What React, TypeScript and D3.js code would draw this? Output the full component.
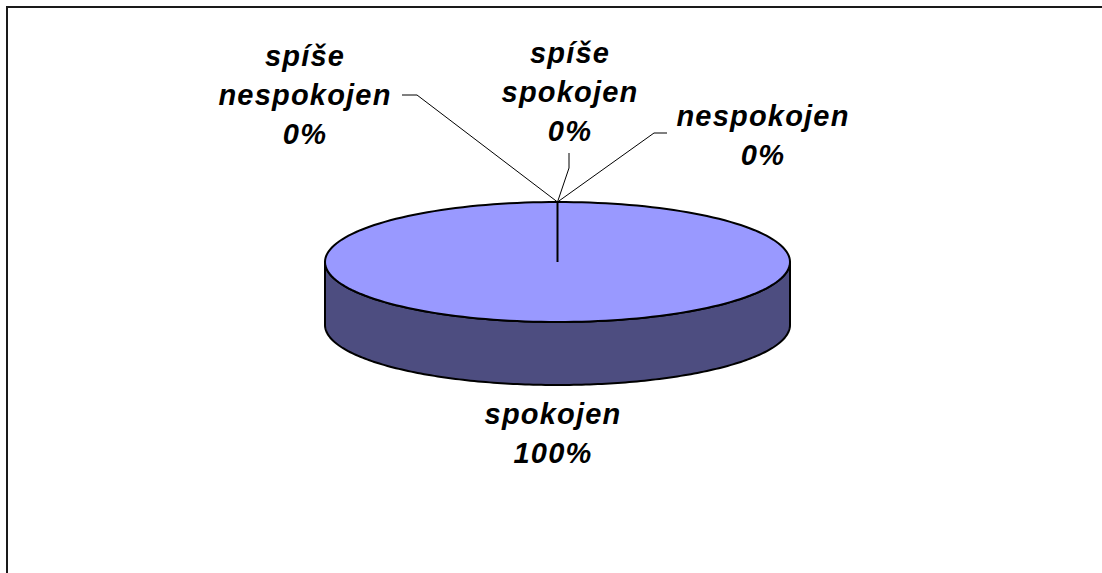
import React from 'react';
import * as d3 from 'd3';

// survey answers, share of respondents
const categories = ['spokojen', 'spíše spokojen', 'spíše nespokojen', 'nespokojen'];
const values = [100, 0, 0, 0];

// label placement (centre x, first baseline y) and leader line elbows
const labelPos: Record<string, { x: number; y: number; leader?: [number, number][] }> = {
  'spokojen': { x: 553, y: 424 },
  'spíše spokojen': { x: 570, y: 63, leader: [[569, 153], [569, 168]] },
  'spíše nespokojen': { x: 305, y: 66, leader: [[402, 95], [417, 95]] },
  'nespokojen': { x: 763, y: 126, leader: [[667, 133], [654, 133]] },
};

const W = 1102;
const H = 573;
const cx = 557.5;
const cy = 262;
const rx = 232.5;
const ry = 60;
const depth = 63;
const lineH = 39;

const topColor = '#9999ff';
const sideColor = '#4d4d80';

// project pie angle (0 = 12 o'clock, clockwise) onto the tilted ellipse
const proj = (a: number, dy = 0): [number, number] => [cx + rx * Math.sin(a), cy - ry * Math.cos(a) + dy];

export default function App() {
  const total = d3.sum(values);
  const pie = d3.pie<number>().sort(null).value(d => d)(values);

  const line = d3.line();

  // top faces of slices
  const slicePath = (s: d3.PieArcDatum<number>) => {
    const n = 180;
    const pts: [number, number][] = [];
    for (let i = 0; i <= n; i++) pts.push(proj(s.startAngle + (s.endAngle - s.startAngle) * (i / n)));
    if (s.endAngle - s.startAngle < 2 * Math.PI - 1e-6) pts.push([cx, cy]);
    return line(pts) + 'Z';
  };

  // front wall (visible between 90° and 270°)
  const sidePts: [number, number][] = [];
  const n = 180;
  for (let i = 0; i <= n; i++) sidePts.push(proj(Math.PI / 2 + Math.PI * (i / n)));
  const bottomPts = sidePts.map(([x, y]) => [x, y + depth] as [number, number]);
  const sidePath = line([...sidePts, ...bottomPts.reverse()]) + 'Z';

  const big = pie.filter(s => s.endAngle - s.startAngle > 0);

  return (
    <svg width={W} height={H} style={{ position: 'absolute', left: 0, top: 0, background: '#fff', overflow: 'hidden' }}>
      <rect x={7} y={7} width={W + 60} height={H + 60} fill="#fff" stroke="#1a1a1a" strokeWidth={2} />
      <path d={sidePath} fill={sideColor} stroke="#000" strokeWidth={2} strokeLinejoin="round" />
      {big.map((s, i) => (
        <path key={i} d={slicePath(s)} fill={topColor} stroke="#000" strokeWidth={2} />
      ))}
      {/* slice boundary at start angle */}
      {pie.slice(0, 1).map((s, i) => {
        const [x, y] = proj(s.startAngle);
        return <line key={i} x1={cx} y1={cy} x2={x} y2={y} stroke="#000" strokeWidth={2} />;
      })}
      {pie.map((s, i) => {
        const cat = categories[i];
        const p = labelPos[cat];
        if (!p.leader) return null;
        const rim = proj(s.startAngle);
        return (
          <path key={'l' + i} d={line([...p.leader, rim]) || ''} fill="none" stroke="#000" strokeWidth={1} />
        );
      })}
      {pie.map((s, i) => {
        const cat = categories[i];
        const p = labelPos[cat];
        const pct = Math.round((values[i] / total) * 100) + '%';
        const lines = [...cat.split(' '), pct];
        return (
          <text
            key={'t' + i}
            textAnchor="middle"
            fontFamily="'Liberation Sans', Arial, sans-serif"
            fontWeight="bold"
            fontStyle="italic"
            fontSize={29}
            letterSpacing={1.2}
            fill="#000"
          >
            {lines.map((t, j) => (
              <tspan key={j} x={p.x} y={p.y + j * lineH}>{t}</tspan>
            ))}
          </text>
        );
      })}
    </svg>
  );
}
